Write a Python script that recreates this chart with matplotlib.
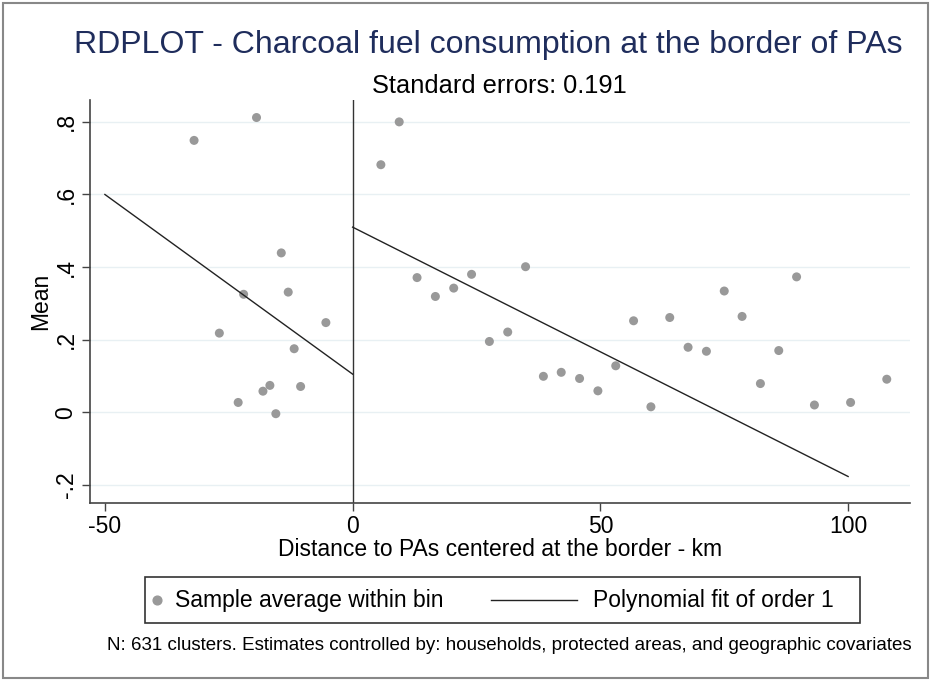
import matplotlib
matplotlib.use("Agg")
import matplotlib.pyplot as plt
from matplotlib.lines import Line2D
from matplotlib.patches import Rectangle

plt.rcParams['font.family'] = ['Liberation Sans', 'DejaVu Sans']

# Data: bin averages
left_x = [-32.0, -26.9, -23.1, -22.0, -19.4, -18.1, -16.7, -15.5, -14.4, -13.0, -11.8, -10.5, -5.4]
left_y = [0.749, 0.218, 0.027, 0.325, 0.812, 0.058, 0.074, -0.004, 0.439, 0.331, 0.175, 0.071, 0.247]
right_x = [5.7, 9.4, 13.0, 16.7, 20.4, 24.0, 27.6, 31.3, 34.9, 38.5, 42.1, 45.8, 49.5, 53.1,
           56.7, 60.2, 64.0, 67.7, 71.4, 75.0, 78.6, 82.3, 86.0, 89.6, 93.2, 100.5, 107.8]
right_y = [0.682, 0.800, 0.371, 0.319, 0.342, 0.380, 0.195, 0.221, 0.401, 0.099, 0.110, 0.093,
           0.059, 0.128, 0.252, 0.015, 0.261, 0.179, 0.168, 0.334, 0.264, 0.079, 0.170, 0.373,
           0.020, 0.027, 0.091]
# Polynomial fits (order 1) endpoints
fit_left_x = [-50, 0]
fit_left_y = [0.600, 0.105]
fit_right_x = [0, 100]
fit_right_y = [0.510, -0.177]

xticks = [-50, 0, 50, 100]
xtick_labels = ['-50', '0', '50', '100']
yticks = [-0.2, 0, 0.2, 0.4, 0.6, 0.8]
ytick_labels = ['-.2', '0', '.2', '.4', '.6', '.8']
legend_labels = ['Sample average within bin', 'Polynomial fit of order 1']

W, H = 931, 681


def px(x, y):
    return x / W, 1 - y / H


fig = plt.figure(figsize=(W / 100, H / 100), dpi=100)
fig.patch.set_facecolor('white')
fig.add_artist(Rectangle((0.003, 0.004), 0.994, 0.992, transform=fig.transFigure,
                         fill=False, edgecolor='#888888', linewidth=1.5))

ax = fig.add_axes([0.0967, 0.2614, 0.8808, 0.5916])
ax.set_xlim(-53, 112.5)
ax.set_ylim(-0.25, 0.86)

for yv in yticks:
    ax.axhline(yv, color='#e8f0f3', linewidth=1.0, zorder=0)
ax.axvline(0, color='#333333', linewidth=1.0, zorder=1)

ax.scatter(left_x, left_y, s=42, color='#999999', edgecolors='none', zorder=3)
ax.scatter(right_x, right_y, s=42, color='#999999', edgecolors='none', zorder=3)
ax.plot(fit_left_x, fit_left_y, color='#222222', linewidth=1.0, zorder=4)
ax.plot(fit_right_x, fit_right_y, color='#222222', linewidth=1.0, zorder=4)

ax.spines['top'].set_visible(False)
ax.spines['right'].set_visible(False)
for s in ['left', 'bottom']:
    ax.spines[s].set_color('#444444')
    ax.spines[s].set_linewidth(1.2)

ax.set_xticks(xticks)
ax.set_xticklabels(xtick_labels, fontsize=16.5)
ax.set_yticks(yticks)
ax.set_yticklabels(ytick_labels, fontsize=16.5, rotation=90, va='center')
ax.tick_params(axis='both', direction='out', length=6, width=1, color='#444444', pad=3)

ax.set_xlabel('Distance to PAs centered at the border - km', fontsize=16.5, labelpad=0)
ax.set_ylabel('Mean', fontsize=16.5, labelpad=2)

fig.text(*px(488, 45), 'RDPLOT - Charcoal fuel consumption at the border of PAs',
         ha='center', va='center', fontsize=23, color='#1f2d5c')
fig.text(*px(499, 86), 'Standard errors: 0.191', ha='center', va='center', fontsize=18.3,
         color='black')

# Legend box
lx0, ly0 = px(145, 623)
lx1, ly1 = px(860, 577)
fig.add_artist(Rectangle((lx0, ly0), lx1 - lx0, ly1 - ly0, transform=fig.transFigure,
                         fill=False, edgecolor='#333333', linewidth=1.2))
fig.add_artist(Line2D([px(157, 0)[0]], [px(0, 600)[1]], marker='o', linestyle='none',
                      color='#999999', markersize=6.3, transform=fig.transFigure))
fig.text(*px(175, 601), legend_labels[0], ha='left', va='center', fontsize=16.5)
fig.add_artist(Line2D([px(491, 0)[0], px(577, 0)[0]], [px(0, 600)[1]] * 2,
                      color='#222222', linewidth=1.0, transform=fig.transFigure))
fig.text(*px(593, 601), legend_labels[1], ha='left', va='center', fontsize=16.5)

fig.text(*px(509, 645), 'N: 631 clusters. Estimates controlled by: households, protected areas, and geographic covariates',
         ha='center', va='center', fontsize=13.5, color='black')

fig.savefig('out.png', dpi=100, facecolor='white')
